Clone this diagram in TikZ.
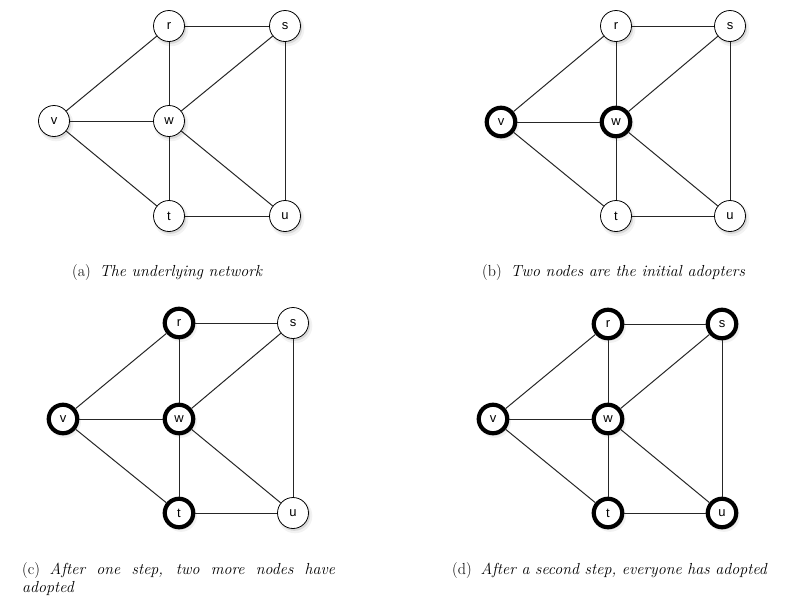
\documentclass[tikz,border=0pt]{standalone}
\usepackage{fontspec}
\newfontfamily\nodefont{Liberation Sans}
\usetikzlibrary{shadows}
\tikzset{
  gnode/.style={circle, draw=black, line width=0.8pt, fill=white, minimum size=31pt, inner sep=0pt,
    font=\nodefont\fontsize{13}{15}\selectfont,
    drop shadow={opacity=0.10, shadow xshift=1.8pt, shadow yshift=-2.6pt, shadow scale=1.12},
    drop shadow={opacity=0.22, shadow xshift=1.4pt, shadow yshift=-2pt, shadow scale=1.02}},
  adopted/.style={gnode, line width=4.2pt, minimum size=28.5pt},
  gedge/.style={draw=black!85, line width=1pt},
  captext/.style={anchor=base west, inner sep=0pt, font=\fontsize{16}{19}\selectfont}
}
\begin{document}
\begin{tikzpicture}[x=1pt,y=-1pt]
\useasboundingbox (0,0) rectangle (785,611);
% ---------- panel (a)
\node[gnode] (ar) at (169,26) {r};
\node[gnode] (as) at (285,26) {s};
\node[gnode] (av) at (54,121) {v};
\node[gnode] (aw) at (169,121) {w};
\node[gnode] (at) at (169,216) {t};
\node[gnode] (au) at (285,216) {u};
% ---------- panel (b)
\node[gnode] (br) at (616,26) {r};
\node[gnode] (bs) at (730,26) {s};
\node[adopted] (bv) at (501,122) {v};
\node[adopted] (bw) at (616,122) {w};
\node[gnode] (bt) at (616,216) {t};
\node[gnode] (bu) at (730,216) {u};
% ---------- panel (c)
\node[adopted] (cr) at (179,323) {r};
\node[gnode] (cs) at (293,323) {s};
\node[adopted] (cv) at (63,419) {v};
\node[adopted] (cw) at (179,419) {w};
\node[adopted] (ct) at (179,513) {t};
\node[gnode] (cu) at (293,513) {u};
% ---------- panel (d)
\node[adopted] (dr) at (608,324) {r};
\node[adopted] (ds) at (722,324) {s};
\node[adopted] (dv) at (493,419) {v};
\node[adopted] (dw) at (608,419) {w};
\node[adopted] (dt) at (608,513) {t};
\node[adopted] (du) at (722,513) {u};
% ---------- edges
\foreach \p in {a,b,c,d}{
  \draw[gedge] (\p v) -- (\p r);
  \draw[gedge] (\p v) -- (\p w);
  \draw[gedge] (\p v) -- (\p t);
  \draw[gedge] (\p r) -- (\p s);
  \draw[gedge] (\p r) -- (\p w);
  \draw[gedge] (\p s) -- (\p w);
  \draw[gedge] (\p s) -- (\p u);
  \draw[gedge] (\p w) -- (\p t);
  \draw[gedge] (\p w) -- (\p u);
  \draw[gedge] (\p t) -- (\p u);
}
% ---------- captions
\node[captext] (capa) at (72,276) {(a)\hspace{0.55em}\textit{The underlying network}};
\node[captext] (capb) at (482,276) {(b)\hspace{0.55em}\textit{Two nodes are the initial adopters}};
\node[captext] (capc1) at (22,574) {\makebox[313pt][s]{(c) \textit{After one step, two more nodes have}}};
\node[captext] (capc2) at (22,592) {\textit{adopted}};
\node[captext] (capd) at (452,574) {(d)\hspace{0.55em}\textit{After a second step, everyone has adopted}};
\end{tikzpicture}
\end{document}
